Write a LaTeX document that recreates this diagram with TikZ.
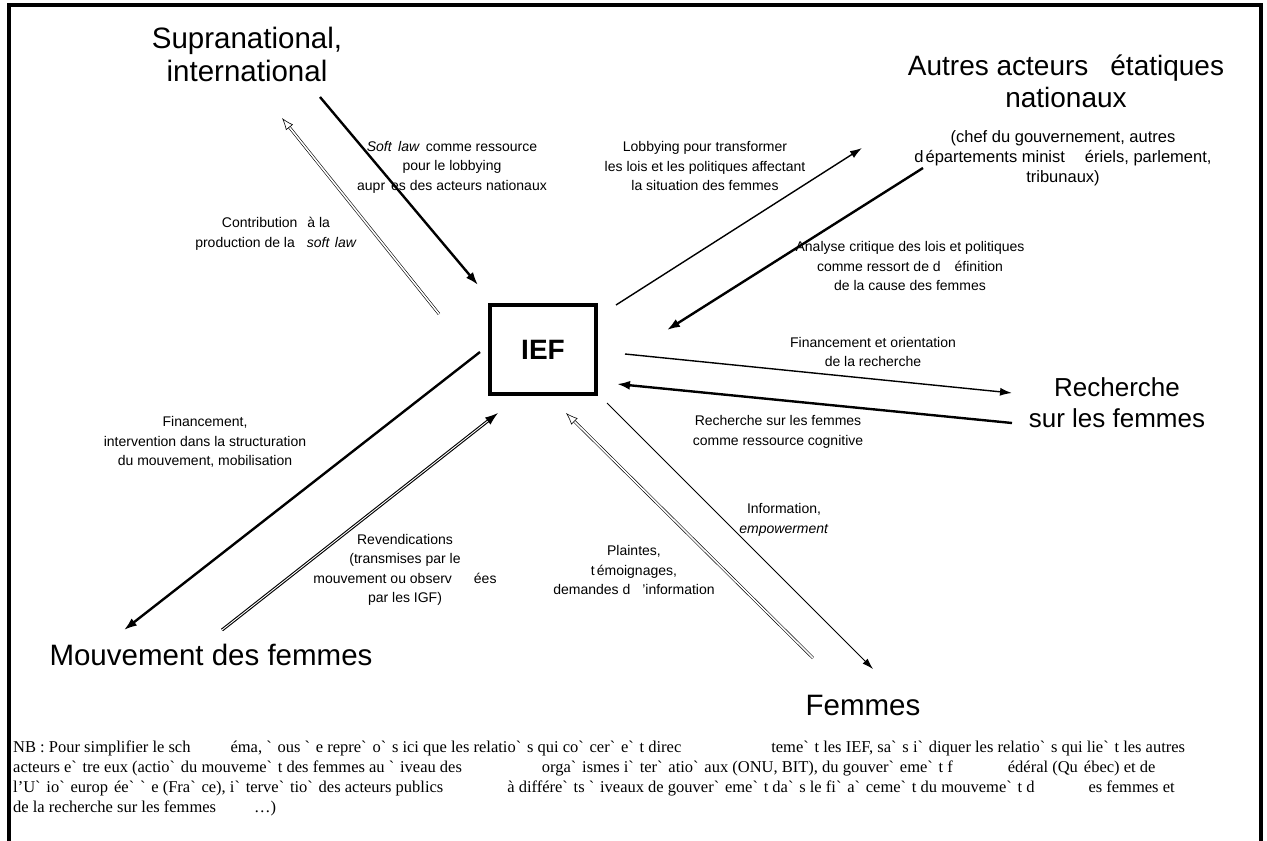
\documentclass[tikz,border=0pt]{standalone}
\usepackage{fontspec}
\setmainfont{Liberation Sans}
\newfontfamily\nbfont{Liberation Serif}
\usetikzlibrary{arrows.meta}
\newcommand{\trou}[1]{\hspace*{#1pt}}
\newcommand{\acg}{\textasciigrave\hspace{0.35em}}

\tikzset{
  acteur/.style={align=center, font=\fontsize{29.5}{33}\selectfont},
  sousacteur/.style={align=center, font=\fontsize{16.5}{20}\selectfont},
  legende/.style={align=center, font=\fontsize{14}{19.5}\selectfont},
  nb/.style={align=left, inner sep=0pt, font=\nbfont\fontsize{16.5}{20}\selectfont},
  fort/.style={line width=2.4pt, -{Latex[length=13pt,width=9pt]}},
  moyen/.style={line width=1.4pt, -{Latex[length=12pt,width=8pt]}},
  fin/.style={line width=0.9pt, -{Latex[length=11pt,width=7pt]}},
  creux/.style={double, line width=0.6pt, double distance=1.6pt, -{Latex[open,length=12pt,width=9pt]}},
  creuxfort/.style={double, line width=1.1pt, double distance=0.9pt, -{Latex[length=13pt,width=9pt]}},
}

\begin{document}
\begin{tikzpicture}[x=1pt,y=-1pt]
\useasboundingbox (0,0) rectangle (1267,841);
\draw[line width=4pt] (9,870) -- (9,5) -- (1261,5) -- (1261,870);

\node[draw, line width=4pt, minimum width=106pt, minimum height=89pt, inner sep=0pt,
  font=\fontsize{28}{32}\selectfont\bfseries] (ief) at (543,349.5) {IEF};

\node[acteur] (supra) at (247,54) {Supranational,\\international};
\node[acteur, font=\fontsize{28}{32}\selectfont] (autres) at (1066,81) {Autres acteurs\trou{22}étatiques\\nationaux};
\node[sousacteur] (autres-detail) at (1063,158) {(chef du gouvernement, autres\\d\trou{2}épartements minist\trou{20}ériels, parlement,\\tribunaux)};
\node[acteur, font=\fontsize{26}{31}\selectfont] (recherche) at (1117,403) {Recherche\\sur les femmes};
\node[acteur, anchor=base] (mouvement) at (211,665) {Mouvement des femmes};
\node[acteur, anchor=base] (femmes) at (863,715) {Femmes};

\coordinate (contrib-a) at (439,314);
\coordinate (contrib-b) at (282,118);
\coordinate (soft-a) at (320,97);
\coordinate (soft-b) at (478,285);
\coordinate (lobby-a) at (616,305);
\coordinate (lobby-b) at (862,148);
\coordinate (analyse-a) at (923,168);
\coordinate (analyse-b) at (667,330);
\coordinate (finrech-a) at (625,354);
\coordinate (finrech-b) at (1012,393);
\coordinate (rech-a) at (1012,423);
\coordinate (rech-b) at (617,384);
\coordinate (info-a) at (607,403);
\coordinate (info-b) at (873,669);
\coordinate (plaintes-a) at (813,658);
\coordinate (plaintes-b) at (566,413);
\coordinate (finmouv-a) at (480,352);
\coordinate (finmouv-b) at (124,630);
\coordinate (revend-a) at (222,630);
\coordinate (revend-b) at (498,413);

\draw[creux] (contrib-a) -- (contrib-b);
\draw[fort] (soft-a) -- (soft-b);
\draw[moyen] (lobby-a) -- (lobby-b);
\draw[fort] (analyse-a) -- (analyse-b);
\draw[moyen] (finrech-a) -- (finrech-b);
\draw[fort] (rech-a) -- (rech-b);
\draw[fin] (info-a) -- (info-b);
\draw[creux] (plaintes-a) -- (plaintes-b);
\draw[fort] (finmouv-a) -- (finmouv-b);
\draw[creuxfort] (revend-a) -- (revend-b);

\node[legende] (l-soft) at (452,167) {\textit{Soft}\trou{6}\textit{law}\trou{6}comme ressource\\pour le lobbying\\aupr\trou{6}es des acteurs nationaux};
\node[legende] (l-contrib) at (276,234) {Contribution\trou{10}à la\\production de la\trou{12}\textit{soft}\trou{5}\textit{law}};
\node[legende] (l-lobby) at (705,166) {Lobbying pour transformer\\les lois et les politiques affectant\\la situation des femmes};
\node[legende] (l-analyse) at (910,266) {Analyse critique des lois et politiques\\comme ressort de d\trou{14}éfinition\\de la cause des femmes};
\node[legende] (l-finrech) at (873,352) {Financement et orientation\\de la recherche};
\node[legende] (l-rech) at (778,432) {Recherche sur les femmes\\comme ressource cognitive};
\node[legende] (l-info) at (784,520) {Information,\\\textit{empowerment}};
\node[legende] (l-plaintes) at (634,570) {Plaintes,\\t\trou{2}émoignages,\\demandes d\trou{12}’information};
\node[legende] (l-finmouv) at (205,442) {Financement,\\intervention dans la structuration\\du mouvement, mobilisation};
\node[legende] (l-revend) at (405,570) {Revendications\\(transmises par le\\mouvement ou observ\trou{22}ées\\par les IGF)};

\node[nb, anchor=north west] (nb) at (13,741) {NB : Pour simplifier le sch\trou{40}éma, \acg ous \acg e repre\acg o\acg s ici que les relatio\acg s qui co\acg cer\acg e\acg t direc\trou{90}teme\acg t les IEF, sa\acg s i\acg diquer les relatio\acg s qui lie\acg t les autres\\
acteurs e\acg tre eux (actio\acg du mouveme\acg t des femmes au \acg iveau des\trou{80}orga\acg ismes i\acg ter\acg atio\acg aux (ONU, BIT), du gouver\acg eme\acg t f\trou{55}édéral (Qu\trou{6}ébec) et de\\
l’U\acg io\acg europ\trou{6}ée\acg\acg e (Fra\acg ce), i\acg terve\acg tio\acg des acteurs publics\trou{64}à différe\acg ts \acg iveaux de gouver\acg eme\acg t da\acg s le fi\acg a\acg ceme\acg t du mouveme\acg t d\trou{54}es femmes et\\
de la recherche sur les femmes\trou{38}…)};
\end{tikzpicture}
\end{document}
